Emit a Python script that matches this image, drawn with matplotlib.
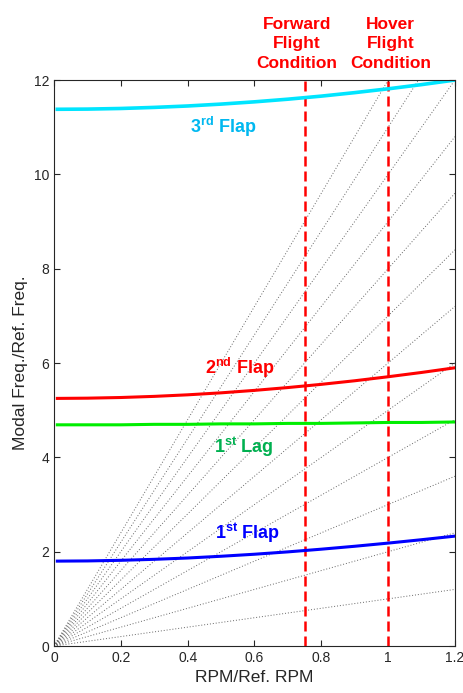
import matplotlib
matplotlib.use("Agg")
import matplotlib.pyplot as plt

plt.rcParams['font.family'] = ['Liberation Sans', 'DejaVu Sans']
plt.rcParams['mathtext.fontset'] = 'custom'
plt.rcParams['mathtext.rm'] = 'Liberation Sans'
plt.rcParams['mathtext.bf'] = 'Liberation Sans:bold'

# rotor speed ratio
rpm = [0.01, 0.1, 0.2, 0.3, 0.4, 0.5, 0.6, 0.7, 0.8, 0.9, 1.0, 1.1, 1.2]

# modal frequencies
flap1 = [1.80, 1.804, 1.817, 1.838, 1.866, 1.903, 1.946, 1.996, 2.053, 2.115, 2.182, 2.254, 2.33]
lag1 = [4.69, 4.69, 4.69, 4.70, 4.70, 4.71, 4.71, 4.72, 4.72, 4.73, 4.74, 4.74, 4.75]
flap2 = [5.25, 5.255, 5.269, 5.293, 5.326, 5.368, 5.42, 5.48, 5.548, 5.624, 5.709, 5.80, 5.899]
flap3 = [11.38, 11.384, 11.397, 11.42, 11.45, 11.49, 11.538, 11.594, 11.659, 11.733, 11.814, 11.903, 12.0]

# per-rev fan lines
orders = [1, 2, 3, 4, 5, 6, 7, 8, 9, 10, 11, 12]
conditions = [0.75, 1.0]
cond_labels = ['Forward\nFlight\nCondition', 'Hover\nFlight\nCondition']
cond_text_x = [0.728, 1.008]

fig = plt.figure(figsize=(4.63, 6.93), dpi=100)
ax = fig.add_axes([0.1166, 0.0678, 0.866, 0.8167])

for n in orders:
    ax.plot([0, 1.2], [0, 1.2 * n], ls=(0, (1, 2)), color='#666666', lw=0.7)

for xc in conditions:
    ax.plot([xc, xc], [0, 12], ls=(0, (4, 2)), color='#ff0000', lw=1.8)

ax.plot(rpm, flap1, color='#0000ff', lw=2.2)
ax.plot(rpm, lag1, color='#00ee00', lw=2.2)
ax.plot(rpm, flap2, color='#ff0000', lw=2.2)
ax.plot(rpm, flap3, color='#00e5ff', lw=2.6)

fs = 13
ax.text(0.507, 11.0, r'3$^{\mathbf{rd}}$ Flap', color='#00b8f0', fontsize=fs, fontweight='bold', ha='center', va='center')
ax.text(0.556, 5.89, r'2$^{\mathbf{nd}}$ Flap', color='#ff0000', fontsize=fs, fontweight='bold', ha='center', va='center')
ax.text(0.569, 4.22, r'1$^{\mathbf{st}}$ Lag', color='#00b050', fontsize=fs, fontweight='bold', ha='center', va='center')
ax.text(0.58, 2.39, r'1$^{\mathbf{st}}$ Flap', color='#0000ff', fontsize=fs, fontweight='bold', ha='center', va='center')

for xt, lab in zip(cond_text_x, cond_labels):
    ax.text(xt, 12.2, lab, color='#ff0000', fontsize=12.5, fontweight='bold',
            ha='center', va='bottom', linespacing=1.35)

ax.set_xlim(0, 1.2)
ax.set_ylim(0, 12)
ax.set_xticks([0, 0.2, 0.4, 0.6, 0.8, 1.0, 1.2])
ax.set_xticklabels(['0', '0.2', '0.4', '0.6', '0.8', '1', '1.2'])
ax.set_yticks([0, 2, 4, 6, 8, 10, 12])
ax.tick_params(direction='in', top=True, right=True, labelsize=10, colors='#262626', length=4)
for s in ax.spines.values():
    s.set_color('#262626')
    s.set_linewidth(0.8)

ax.set_xlabel('RPM/Ref. RPM', fontsize=12.5, color='#262626')
ax.set_ylabel('Modal Freq./Ref. Freq.', fontsize=12.5, color='#262626')

fig.savefig('out.png', dpi=100)
